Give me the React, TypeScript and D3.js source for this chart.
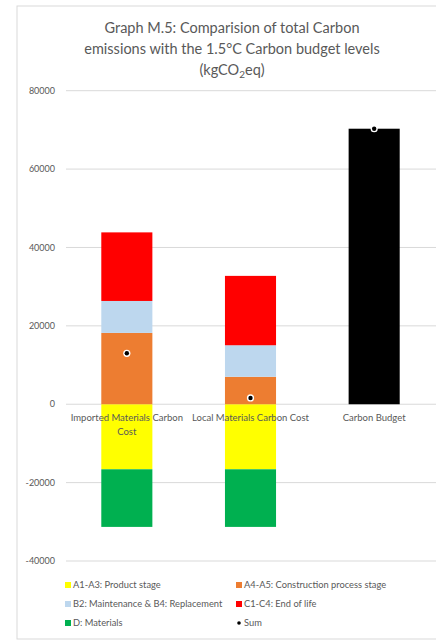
import React from "react";
import * as d3 from "d3";

const categories = ["Imported Materials Carbon Cost", "Local Materials Carbon Cost", "Carbon Budget"];
const categoryLines = [["Imported Materials Carbon", "Cost"], ["Local Materials Carbon Cost"], ["Carbon Budget"]];
const productStage = [-16600, -16600, 0];
const constructionStage = [18200, 7000, 0];
const maintenance = [8150, 8050, 0];
const endOfLife = [17500, 17700, 0];
const materialsD = [-14700, -14700, 0];
const budget = [0, 0, 70300];
const sums = [13000, 1600, 70300];
const yTicks = [-40000, -20000, 0, 20000, 40000, 60000, 80000];

const seriesKeys = ["A1-A3: Product stage", "A4-A5: Construction process stage", "B2: Maintenance & B4: Replacement", "C1-C4: End of life", "D: Materials", "Budget"];
const seriesValues = [productStage, constructionStage, maintenance, endOfLife, materialsD, budget];
const seriesColors = ["#FFFF00", "#ED7D31", "#BDD7EE", "#FF0000", "#00B050", "#000000"];

const FONT = "Lato, 'Open Sans', sans-serif";

export default function App() {
  const W = 436, H = 641;
  const x = d3.scaleBand<string>().domain(categories).range([65, 436]).paddingInner(0.587).paddingOuter(0.2935);
  const y = d3.scaleLinear().domain([-40000, 80000]).range([561, 90.7]);

  const rows = categories.map((c, i) => {
    const r: any = { cat: c };
    seriesKeys.forEach((k, j) => (r[k] = seriesValues[j][i]));
    return r;
  });
  const stack = d3.stack<any>().keys(seriesKeys).offset(d3.stackOffsetDiverging);
  const stacked = stack(rows);

  const legend = [
    { label: seriesKeys[0], color: seriesColors[0], col: 0, row: 0 },
    { label: seriesKeys[1], color: seriesColors[1], col: 1, row: 0 },
    { label: seriesKeys[2], color: seriesColors[2], col: 0, row: 1 },
    { label: seriesKeys[3], color: seriesColors[3], col: 1, row: 1 },
    { label: seriesKeys[4], color: seriesColors[4], col: 0, row: 2 },
  ];
  const legX = [65, 236];
  const legY = [585, 604, 623];

  return (
    <svg width={W} height={H} style={{ position: "absolute", left: 0, top: 0, background: "#fff" }}>
      <rect x={17} y={6} width={W} height={633} fill="#fff" stroke="#d9d9d9" strokeWidth={1} />
      <text textAnchor="middle" fontFamily={FONT} fontSize={14.5} fill="#595959">
        <tspan x={232} y={33}>Graph M.5: Comparision of total Carbon</tspan>
        <tspan x={232} y={54}>emissions with the 1.5°C Carbon budget levels</tspan>
        <tspan x={232} y={75}>(kgCO<tspan fontSize={10} dy={3}>2</tspan><tspan dy={-3}>eq)</tspan></tspan>
      </text>
      {yTicks.map((t) => (
        <g key={t}>
          <line x1={66} x2={436} y1={y(t)} y2={y(t)} stroke="#d9d9d9" strokeWidth={1} />
          <text x={55} y={y(t)} dy="0.35em" textAnchor="end" fontFamily={FONT} fontSize={9} fill="#595959">{t}</text>
        </g>
      ))}
      {stacked.map((s, si) => (
        <g key={s.key}>
          {s.map((d, i) => {
            const v = seriesValues[si][i];
            if (!v) return null;
            const y0 = y(d[0]), y1 = y(d[1]);
            return (
              <rect key={i} x={x(categories[i])} width={x.bandwidth()} y={Math.min(y0, y1)} height={Math.abs(y1 - y0)} fill={seriesColors[si]} />
            );
          })}
        </g>
      ))}
      {categories.map((c, i) => (
        <text key={c} textAnchor="middle" fontFamily={FONT} fontSize={9.5} fill="#595959">
          {categoryLines[i].map((l, li) => (
            <tspan key={li} x={(x(c) as number) + x.bandwidth() / 2} y={421 + li * 14}>{l}</tspan>
          ))}
        </text>
      ))}
      {sums.map((v, i) => (
        <g key={i}>
          <circle cx={(x(categories[i]) as number) + x.bandwidth() / 2} cy={y(v)} r={3.6} fill="#fff" />
          <circle cx={(x(categories[i]) as number) + x.bandwidth() / 2} cy={y(v)} r={2.2} fill="#000" />
        </g>
      ))}
      {legend.map((l) => (
        <g key={l.label}>
          <rect x={legX[l.col]} y={legY[l.row] - 3} width={6} height={6} fill={l.color} />
          <text x={legX[l.col] + 8} y={legY[l.row]} dy="0.35em" fontFamily={FONT} fontSize={9.3} fill="#595959">{l.label}</text>
        </g>
      ))}
      <circle cx={legX[1] + 3} cy={legY[2]} r={1.8} fill="#000" />
      <text x={legX[1] + 8} y={legY[2]} dy="0.35em" fontFamily={FONT} fontSize={9.3} fill="#595959">Sum</text>
    </svg>
  );
}
